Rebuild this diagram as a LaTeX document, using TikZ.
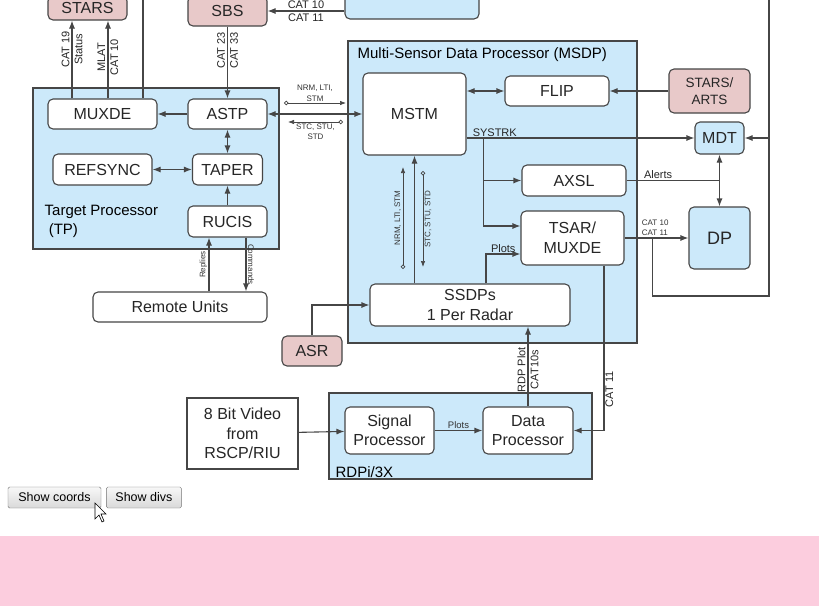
\documentclass[tikz,border=0pt]{standalone}
\usepackage{fontspec}
\setmainfont{Liberation Sans}
\usetikzlibrary{arrows.meta, positioning}
\definecolor{boxline}{RGB}{70,70,70}
\definecolor{bluefill}{RGB}{204,233,250}
\definecolor{pinkfill}{RGB}{232,201,201}
\definecolor{band}{RGB}{252,205,222}
\newcommand{\txtL}{\fontsize{16}{19.5}\selectfont}
\newcommand{\txtM}{\fontsize{15}{19}\selectfont}
\newcommand{\txtS}{\fontsize{11}{13}\selectfont}
\newcommand{\txtT}{\fontsize{9.5}{11}\selectfont}
\newcommand{\txtXS}{\fontsize{8}{10.5}\selectfont}
\tikzstyle{block} = [rectangle, draw=boxline, line width=1.1pt, fill=white, rounded corners=5pt, align=center, inner sep=0pt, font=\txtL, text=black!85]
\tikzstyle{redblock} = [block, fill=pinkfill]
\tikzstyle{blueblock} = [block, fill=bluefill]
\tikzstyle{plainblock} = [block, rounded corners=0pt]
\tikzstyle{group} = [rectangle, draw=boxline, line width=1.1pt, fill=bluefill, inner sep=0pt]
\tikzstyle{line} = [draw=boxline, line width=1.1pt, -{Latex[length=8pt, width=6pt]}]
\tikzstyle{dline} = [draw=boxline, line width=1.1pt, {Latex[length=8pt, width=6pt]}-{Latex[length=8pt, width=6pt]}]
\tikzstyle{thin} = [draw=boxline, line width=0.7pt, {Circle[open, length=4.5pt]}-{Latex[length=6pt, width=4.5pt]}]
\tikzstyle{tag} = [font=\txtS, inner sep=1pt, align=center, text=black!85]
\tikzstyle{ttag} = [font=\txtXS, inner sep=1.5pt, align=center, text=black!80]
\tikzstyle{button} = [rectangle, draw=black!55, rounded corners=1.5pt, top color=black!3, bottom color=black!15, font=\fontsize{12.5}{14}\selectfont, inner sep=0pt]

\begin{document}
\begin{tikzpicture}[x=1pt, y=-1pt]
    \useasboundingbox (0,0) rectangle (819,606);
    \clip (0,0) rectangle (819,606);
    \fill [white] (0,0) rectangle (819,606);
    \fill [band] (0,536) rectangle (819,606);

    % Grupos
    \node [group, minimum width=246, minimum height=161] (tp) at (156,168.5) {};
    \node [group, minimum width=289, minimum height=302] (msdp) at (492.5,192) {};
    \node [group, minimum width=263, minimum height=86] (rdp) at (460.5,436) {};
    \node [font=\txtM, align=left, anchor=north west, inner sep=0pt] at ([xshift=12,yshift=-118]tp.north west) {Target Processor\\~(TP)};
    \node [font=\txtM, anchor=north west, inner sep=0pt] at ([xshift=10,yshift=-7]msdp.north west) {Multi-Sensor Data Processor (MSDP)};
    \node [font=\txtM, anchor=south west, inner sep=0pt] at ([xshift=7,yshift=2]rdp.south west) {RDPi/3X};

    % Nodos
    \node [redblock, minimum width=79, minimum height=24] (stars) at (87.5,8) {STARS};
    \node [redblock, minimum width=79, minimum height=30] (sbs) at (227.5,11) {SBS};
    \node [blueblock, minimum width=134, minimum height=38] (topbox) at (412,0) {};
    \node [block, minimum width=109, minimum height=30] (muxde) at (102.5,114) {MUXDE};
    \node [block, minimum width=79, minimum height=30] (astp) at (227.5,114) {ASTP};
    \node [block, minimum width=99, minimum height=31] (refsync) at (102.5,169.5) {REFSYNC};
    \node [block, minimum width=70, minimum height=31] (taper) at (227.5,169.5) {TAPER};
    \node [block, minimum width=79, minimum height=31] (rucis) at (227.5,221.5) {RUCIS};
    \node [block, minimum width=174, minimum height=30] (remote) at (180,307) {Remote Units};
    \node [block, minimum width=103, minimum height=82] (mstm) at (414.5,114) {MSTM};
    \node [block, minimum width=104, minimum height=30] (flip) at (557,91) {FLIP};
    \node [redblock, minimum width=81, minimum height=44, font=\fontsize{13.5}{17}\selectfont] (starsarts) at (709.5,91) {STARS/\\ARTS};
    \node [blueblock, minimum width=49, minimum height=32] (mdt) at (719.5,138) {MDT};
    \node [block, minimum width=104, minimum height=31] (axsl) at (574,180.5) {AXSL};
    \node [block, minimum width=103, minimum height=54] (tsar) at (572.5,238) {TSAR/\\MUXDE};
    \node [blueblock, minimum width=61, minimum height=62, font=\fontsize{18}{21}\selectfont] (dp) at (719.5,238) {DP};
    \node [block, minimum width=200, minimum height=42] (ssdps) at (470,305) {SSDPs\\1 Per Radar};
    \node [redblock, minimum width=60, minimum height=30] (asr) at (312,351) {ASR};
    \node [block, minimum width=89, minimum height=47] (sigproc) at (389.5,430.5) {Signal\\Processor};
    \node [block, minimum width=90, minimum height=47] (dataproc) at (528,430.5) {Data\\Processor};
    \node [plainblock, minimum width=111, minimum height=71] (video) at (242.5,433.5) {8 Bit Video\\from\\RSCP/RIU};

    % Lineas
    \coordinate (topL) at (143,-5);
    \draw [boxline, line width=1.1pt] (topL) -- (topL |- muxde.north);
    \path [line] ([xshift=-30.5]muxde.north) -- ([xshift=-30.5]muxde.north |- stars.south) node [tag, rotate=90, pos=0.63] {CAT 19\\Status};
    \path [line] ([xshift=5.5]muxde.north) -- ([xshift=5.5]muxde.north |- stars.south) node [tag, rotate=90, pos=0.53] {MLAT\\CAT 10};
    \path [line] (sbs.south -| astp.north) -- (astp.north) node [tag, rotate=90, pos=0.33] {CAT 23\\CAT 33};
    \path [line] (topbox.west |- sbs.east) -- (sbs.east) node [tag, midway] {CAT 10\\CAT 11};
    \path [line] (astp) -- (muxde);
    \path [dline] (astp) -- (mstm);
    \coordinate (nrmA) at (284,103);
    \coordinate (nrmB) at (346,103);
    \coordinate (stcA) at (343,122);
    \coordinate (stcB) at (288,122);
    \path [thin] (nrmA) -- (nrmB) node [ttag, midway, above] {NRM, LTI,\\STM};
    \path [thin] (stcA) -- (stcB) node [ttag, midway, below] {STC, STU,\\STD};
    \path [dline] (astp.south) -- (astp.south |- taper.north);
    \path [dline] (refsync) -- (taper);
    \path [line] (rucis.north) -- (taper.south);
    \path [line] ([xshift=29]remote.north) -- ([xshift=29]remote.north |- rucis.south) node [ttag, rotate=90, anchor=south, midway] {Replies};
    \path [line] ([xshift=66]remote.north |- rucis.south) -- ([xshift=66]remote.north) node [ttag, rotate=-90, anchor=south, midway] {Commands};

    \path [dline] (flip.west -| mstm.east) -- (flip.west);
    \path [line] (starsarts) -- (flip);
    \coordinate (sys) at (mdt.west -| mstm.east);
    \path [line] (sys) -- (mdt.west);
    \node [tag, anchor=south west] at ([xshift=5]sys) {SYSTRK};
    \coordinate (br) at ([xshift=17]sys);
    \path [line] (br) |- (axsl.west);
    \path [line] (br) |- ([yshift=12]tsar.west);
    \draw [boxline, line width=1.1pt] (axsl.east) -- (axsl.east -| mdt.south) node [tag, pos=0.34, above] {Alerts};
    \path [dline] (mdt.south) -- (dp.north);
    \path [line] (tsar.east) -- (dp.west) node [ttag, pos=0.48, above, align=left] {CAT 10\\CAT 11};
    \coordinate (lp) at ([xshift=28]tsar.east);
    \coordinate (rr) at (769,296);
    \coordinate (rtop) at (769,-5);
    \draw [boxline, line width=1.1pt] (lp) |- (rr) -- (rtop);
    \path [line] (mdt.east -| rr) -- (mdt.east);

    \path [line] (ssdps.north -| mstm.south) -- (mstm.south);
    \coordinate (nrmC) at (403,269);
    \coordinate (nrmD) at (403,167);
    \coordinate (stcC) at (423,171);
    \coordinate (stcD) at (423,267);
    \path [thin] (nrmC) -- (nrmD) node [ttag, rotate=90, anchor=south, midway] {NRM, LTI, STM};
    \path [thin] (stcC) -- (stcD) node [ttag, rotate=90, anchor=north, midway] {STC, STU, STD};
    \path [line] ([xshift=16]ssdps.north) |- ([yshift=-16]tsar.west) node [tag, pos=0.75, above] {Plots};
    \path [line] ([xshift=31.5]tsar.south) |- (dataproc.east) node [tag, rotate=90, anchor=north, pos=0.375] {CAT 11};
    \path [line] (asr.north) |- (ssdps.west);
    \path [line] (dataproc.north) -- (dataproc.north |- ssdps.south) node [tag, rotate=90, pos=0.46] {RDP Plot\\CAT10s};
    \path [line] (sigproc) -- (dataproc) node [ttag, font=\txtT, midway, above] {Plots};
    \path [line] (video) -- (sigproc);

    % Botones
    \node [button, minimum width=93, minimum height=21] (coords) at (54.5,497.5) {Show coords};
    \node [button, minimum width=75, minimum height=21, right=5pt of coords] (divs) {Show divs};
    \draw [black, fill=white, line width=0.6pt] (95,503) -- ++(0,16) -- ++(4,-4) -- ++(3,7) -- ++(2,-1) -- ++(-3,-7) -- ++(5,0) -- cycle;
\end{tikzpicture}
\end{document}
